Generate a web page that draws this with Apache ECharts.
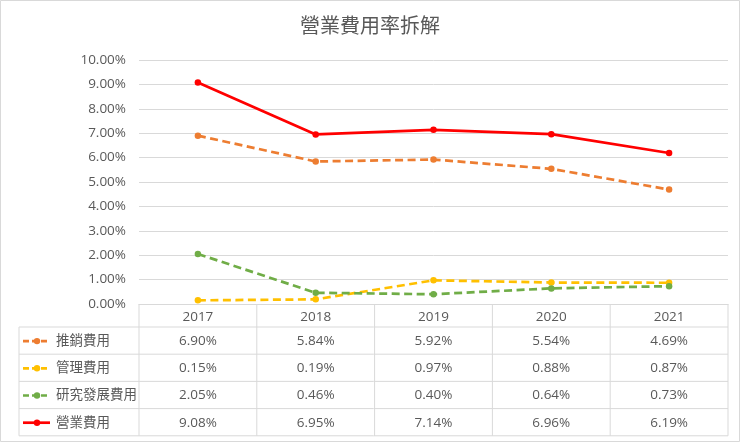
<!DOCTYPE html>
<html>
<head>
<meta charset="utf-8">
<script src="https://cdn.jsdelivr.net/npm/echarts@6/dist/echarts.min.js"></script>
<style>
html,body{margin:0;padding:0;background:#fff;}
#chart{width:740px;height:442px;}
</style>
</head>
<body>
<div id="chart"></div>
<script>
const titleText = '營業費用率拆解';
const years = ['2017', '2018', '2019', '2020', '2021'];
const seriesNames = ['推銷費用', '管理費用', '研究發展費用', '營業費用'];
const salesExp = [6.90, 5.84, 5.92, 5.54, 4.69];
const adminExp = [0.15, 0.19, 0.97, 0.88, 0.87];
const rdExp = [2.05, 0.46, 0.40, 0.64, 0.73];
const opExp = [9.08, 6.95, 7.14, 6.96, 6.19];
const yMin = 0, yMax = 10, yStep = 1;

const seriesData = [salesExp, adminExp, rdExp, opExp];
const colors = ['#ED7D31', '#FFC000', '#70AD47', '#FF0000'];
const dashed = [true, true, true, false];

const FONT = "'Open Sans', 'Noto Sans CJK TC', sans-serif";
const TXT = '#595959';
const LINE = '#D9D9D9';
const GL = 139, GR = 12, GT = 60, GB = 138;
const W = 740, H = 442;

const chart = echarts.init(document.getElementById('chart'), null, {renderer: 'canvas'});

const option = {
  animation: false,
  backgroundColor: '#fff',
  title: {
    text: titleText, left: 'center', top: 12,
    textStyle: {fontFamily: FONT, fontSize: 20, fontWeight: 'normal', color: TXT}
  },
  grid: {left: GL, right: GR, top: GT, bottom: GB, containLabel: false},
  xAxis: {
    type: 'category', data: years, boundaryGap: true,
    axisLine: {show: true, lineStyle: {color: LINE, width: 1}},
    axisTick: {show: false},
    axisLabel: {show: false},
    splitLine: {show: false}
  },
  yAxis: {
    type: 'value', min: yMin, max: yMax, interval: yStep,
    axisLine: {show: false}, axisTick: {show: false},
    axisLabel: {
      fontFamily: FONT, fontSize: 13.5, color: TXT, margin: 13,
      formatter: v => v.toFixed(2) + '%'
    },
    splitLine: {lineStyle: {color: LINE, width: 1}}
  },
  series: seriesNames.map((n, i) => ({
    name: n, type: 'line', data: seriesData[i],
    symbol: 'circle', symbolSize: 6.5,
    itemStyle: {color: colors[i]},
    lineStyle: {color: colors[i], width: 2.7, type: dashed[i] ? [8, 4.5] : 'solid'},
    z: 2 + i
  }))
};
chart.setOption(option);

// Data table under the plot
const g = [];
const tableTop = H - GB;            // 304
const rowH = 27.2;
const headerH = 23;
const tableLeft = 19;
const tableRight = W - GR;
const colW = (tableRight - GL) / years.length;
const rowTops = [tableTop, tableTop + headerH];
for (let r = 1; r <= seriesNames.length; r++) rowTops.push(tableTop + headerH + rowH * r);
const bottom = rowTops[rowTops.length - 1];
const F = '13.5px ' + FONT;

// horizontal lines
for (let r = 1; r < rowTops.length; r++) {
  g.push({type: 'line', shape: {x1: tableLeft, y1: rowTops[r], x2: tableRight, y2: rowTops[r]},
    style: {stroke: LINE, lineWidth: 1}, silent: true});
}
// vertical lines
g.push({type: 'line', shape: {x1: tableLeft, y1: rowTops[1], x2: tableLeft, y2: bottom},
  style: {stroke: LINE, lineWidth: 1}, silent: true});
for (let c = 0; c <= years.length; c++) {
  const x = GL + colW * c;
  g.push({type: 'line', shape: {x1: x, y1: tableTop, x2: x, y2: bottom},
    style: {stroke: LINE, lineWidth: 1}, silent: true});
}
// header
years.forEach((y, i) => {
  const cx = chart.convertToPixel({xAxisIndex: 0}, i);
  g.push({type: 'text', x: cx, y: tableTop + headerH / 2 + 1.5,
    style: {text: y, fill: TXT, font: F, align: 'center', verticalAlign: 'middle'}, silent: true});
});
// rows
seriesNames.forEach((n, r) => {
  const cy = rowTops[r + 1] + rowH / 2 + 0.5;
  g.push({type: 'line', shape: {x1: 23, y1: cy, x2: 50, y2: cy},
    style: {stroke: colors[r], lineWidth: 2.7, lineDash: dashed[r] ? [6, 3] : null}, silent: true});
  g.push({type: 'circle', shape: {cx: 37, cy: cy, r: 3.2}, style: {fill: colors[r]}, silent: true});
  g.push({type: 'text', x: 56, y: cy,
    style: {text: n, fill: TXT, font: F, align: 'left', verticalAlign: 'middle'}, silent: true});
  seriesData[r].forEach((v, i) => {
    const cx = chart.convertToPixel({xAxisIndex: 0}, i);
    g.push({type: 'text', x: cx, y: cy,
      style: {text: v.toFixed(2) + '%', fill: TXT, font: F, align: 'center', verticalAlign: 'middle'}, silent: true});
  });
});
// outer border
g.push({type: 'rect', shape: {x: 0.5, y: 0.5, width: W - 1, height: H - 1},
  style: {fill: null, stroke: LINE, lineWidth: 1}, silent: true, z: 100});

chart.setOption({graphic: {elements: g}});
</script>
</body>
</html>
